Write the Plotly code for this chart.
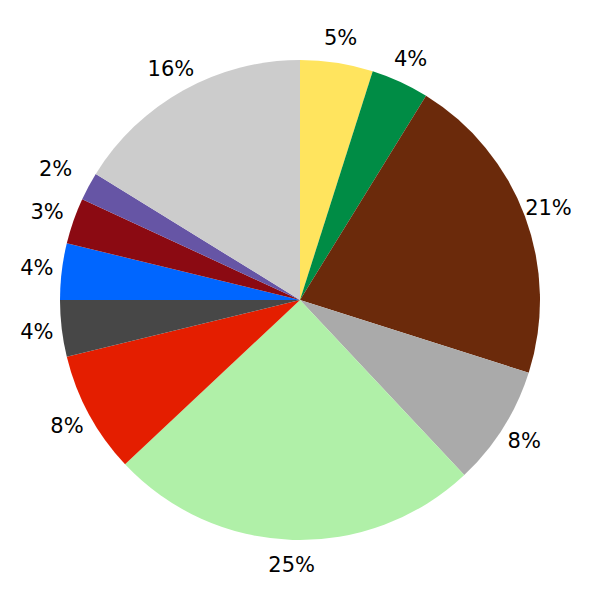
import plotly.graph_objects as go

labels = ["A", "B", "C", "D", "E", "F", "G", "H", "I", "J", "K"]
values = [4.9, 3.9, 21.1, 8.1, 25.0, 8.2, 3.8, 3.8, 3.1, 1.9, 16.2]
colors = ["#FFE45E", "#008C45", "#6B2A0B", "#AAAAAA", "#B0F0A8", "#E41E00",
          "#474747", "#0066FF", "#8B0A12", "#6655A5", "#CCCCCC"]

W = 600.0
CX = 300.0          # pie centre (body margin removed below)
R = 240.0
RING_OUT = 294.0    # transparent label ring: outer radius (px)
RING_IN = 236.0     # transparent label ring: inner radius (px)


def dom(rad):
    x = [max(0.0, (CX - rad) / W), min(1.0, (CX + rad) / W)]
    y = [max(0.0, (W - (CX + rad)) / W), min(1.0, (W - (CX - rad)) / W)]
    return dict(x=x, y=y)


fig = go.Figure()
fig.add_trace(go.Pie(
    labels=labels,
    values=values,
    sort=False,
    direction="clockwise",
    rotation=0,
    marker=dict(colors=colors, line=dict(width=0)),
    textinfo="none",
    hoverinfo="label+percent",
    domain=dom(R),
))
fig.add_trace(go.Pie(
    labels=labels,
    values=values,
    sort=False,
    direction="clockwise",
    rotation=0,
    hole=RING_IN / RING_OUT,
    marker=dict(colors=["rgba(0,0,0,0)"] * len(values), line=dict(width=0)),
    texttemplate="%{percent:.0%}",
    textposition="inside",
    insidetextorientation="horizontal",
    insidetextfont=dict(family="DejaVu Sans", size=21, color="black"),
    hoverinfo="skip",
    domain=dom(RING_OUT),
))
fig.update_layout(
    width=600, height=600,
    margin=dict(l=0, r=0, t=0, b=0),
    showlegend=False,
    paper_bgcolor="white",
    plot_bgcolor="white",
    uniformtext=dict(minsize=21, mode="show"),
)
fig.write_html("out.html", config={"displayModeBar": False},
               post_script="document.body.style.margin='0px';")
